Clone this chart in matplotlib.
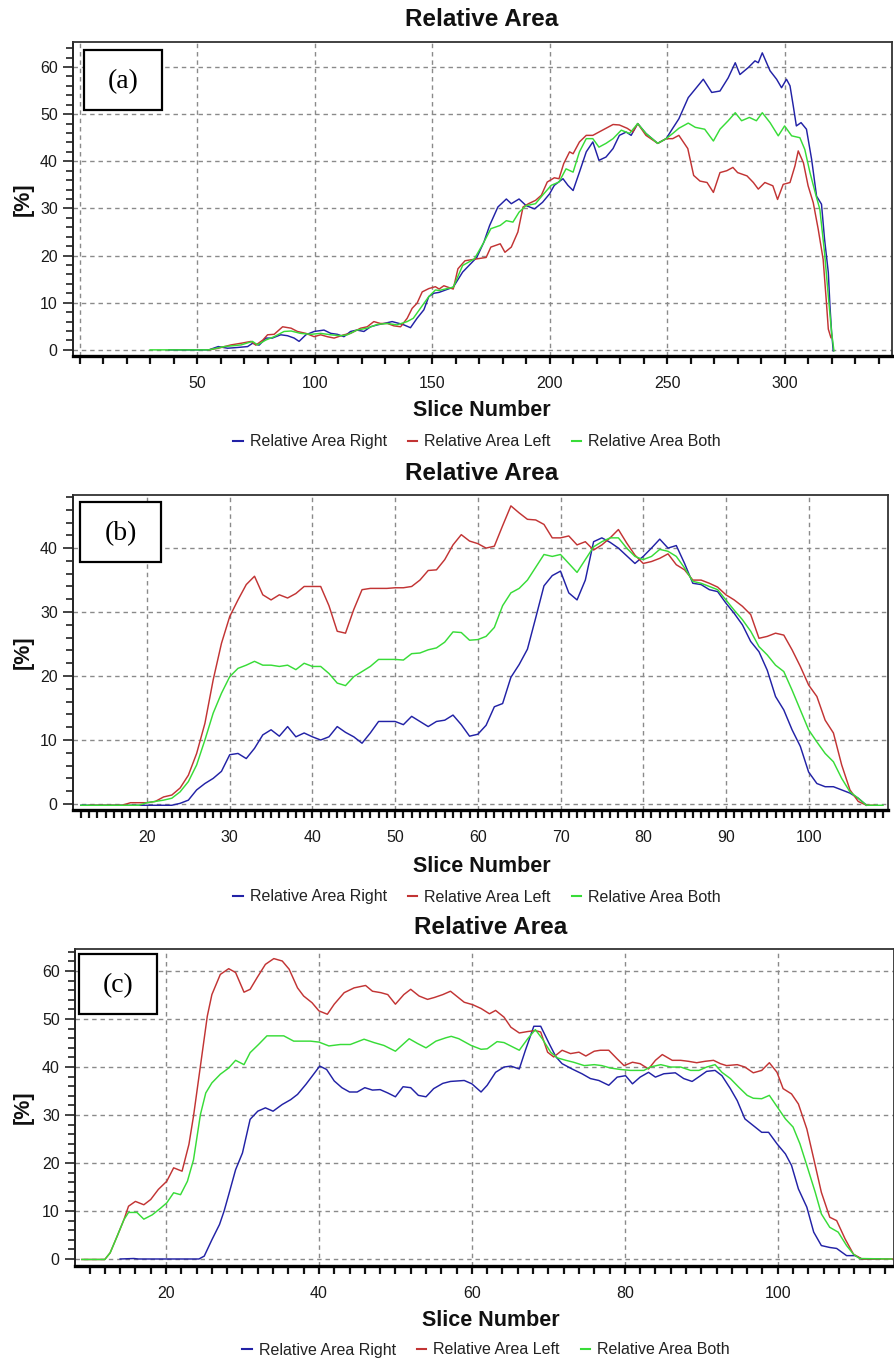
import matplotlib
matplotlib.use("Agg")
import matplotlib.pyplot as plt
from matplotlib.ticker import MultipleLocator
from matplotlib.patches import Rectangle
from matplotlib.lines import Line2D

# ---------------- data ----------------
labels = ["Relative Area Right", "Relative Area Left", "Relative Area Both"]
colors = ["#2222a6", "#c23434", "#38dc38"]
panel_tags = ["(a)", "(b)", "(c)"]
title = "Relative Area"
xlabel = "Slice Number"
ylabel = "[%]"

# Panel (a)
a_right_x = [38, 55, 59, 63, 67, 71.5, 73.6, 76.4, 79.3, 82, 85.6, 88.5, 91.3, 93.4, 96.3, 99.8, 104, 106.9, 109.7,
             112.5, 115.3, 118, 121, 123.8, 126.7, 129.5, 133, 136, 138, 140.8, 143.6, 146.5, 148.6, 150.7, 153, 159,
             163, 169, 172, 174.5, 178, 181.6, 183.7, 187, 190, 193.6, 197, 200, 202, 205.7, 207.8, 210, 212.7, 215.6,
             218.4, 221, 224, 227, 229.7, 232.6, 234.7, 237.5, 241, 246, 249.6, 252.4, 255, 259, 265.4, 269, 272.5,
             276, 279, 281, 284.6, 287.4, 288.8, 290.5, 293.8, 296.6, 298.7, 300.8, 302.3, 303.7, 305, 307, 309.3,
             311.5, 313.6, 315.7, 317, 318.6, 319.3, 320, 320.7]
a_right_y = [0, 0, 0.7, 0.35, 0.5, 0.7, 1.4, 1.0, 2.5, 2.5, 3.2, 3.0, 2.5, 1.8, 3.2, 3.9, 4.2, 3.5, 3.3,
             2.8, 3.9, 4.2, 3.9, 4.9, 5.3, 5.6, 6.0, 5.6, 5.3, 4.7, 6.7, 8.5, 11.3, 12.0, 12.2, 13.3,
             16.5, 19.6, 22.8, 26.4, 30.3, 32.0, 31.0, 32.0, 30.6, 29.9, 31.3, 33.1, 34.9, 36.3, 34.9, 33.8, 37.7, 42.0,
             44.1, 40.2, 40.9, 42.7, 45.5, 46.2, 45.5, 48.0, 45.9, 43.8, 44.8, 47.0, 49.0, 53.5, 57.4, 54.6, 54.9,
             57.7, 60.9, 58.4, 59.9, 61.3, 60.9, 63.0, 59.2, 57.4, 55.6, 57.4, 56.0, 51.7, 47.5, 48.2, 46.8,
             40.4, 32.6, 30.9, 23.5, 16.4, 9.3, 3.7, -0.2]

a_left_x = [55, 59, 64.4, 68.7, 73, 75, 78, 80, 82.8, 86.4, 90, 92.7, 96.3, 99.8, 102.6, 105.4, 108.3, 112.5, 115.3,
            119.6, 122.4, 125.2, 128, 131, 133.7, 136.6, 139.4, 141.5, 143.6, 145.8, 148.6, 151.4, 153, 155, 159, 161,
            164, 169, 173, 175, 179, 181, 183.7, 186.5, 188.7, 191, 194, 196.5, 199, 202, 204, 206, 208.5, 210,
            212.7, 215.6, 218.4, 221, 224, 227, 229.7, 233, 235.4, 237.5, 241, 246, 249.6, 252.4, 255, 258.8, 261.3,
            264, 267, 269.7, 272.5, 275.4, 278, 280, 284, 286.7, 288.8, 291.6, 295, 297, 299.4, 302.3, 304.4, 305.8,
            308, 310, 312.2, 314.3, 316.4, 317.8, 318.6, 319.7]
a_left_y = [0, 0.35, 1.05, 1.4, 1.8, 1.0, 2.1, 3.2, 3.3, 4.9, 4.6, 3.9, 3.5, 2.8, 3.2, 2.8, 2.5, 3.2, 3.5,
            4.6, 4.9, 6.0, 5.6, 5.6, 5.1, 4.9, 6.7, 8.8, 9.9, 12.3, 13.0, 13.4, 12.9, 13.6, 12.9, 17.2,
            18.9, 19.3, 19.6, 21.8, 22.5, 20.7, 21.8, 25.0, 30.3, 31.0, 31.7, 32.8, 35.6, 36.5, 36.3, 39.5, 42.0, 41.6,
            44.1, 45.5, 45.5, 46.2, 47.0, 47.8, 47.7, 47.0, 46.2, 48.0, 45.5, 43.8, 44.8, 44.8, 45.5, 42.7, 37.0,
            35.8, 35.5, 33.4, 37.6, 38.0, 38.7, 37.6, 36.9, 35.5, 34.1, 35.5, 34.8, 31.9, 35.1, 35.5, 39.0, 42.2,
            39.7, 34.8, 31.2, 25.6, 19.2, 10.0, 4.4, 2.6]

a_both_x = [30, 55, 61.6, 68.7, 73.6, 75.7, 79.3, 82.8, 87, 90, 94, 98.4, 102.6, 106.9, 111, 114, 118, 122.4, 126.7,
            131, 135, 139.4, 142, 145, 148.6, 151.4, 153, 159, 163, 168, 172, 175, 179, 181.6, 184.4, 187, 190, 194,
            197, 200.7, 204, 207, 210, 212.7, 215.6, 218.4, 221, 224, 227, 230.5, 234, 237.5, 241, 246, 249.6, 252.4,
            255, 259, 262, 266, 269.7, 272.5, 276, 279, 281.7, 285, 288, 290.5, 293.8, 297.3, 300, 303, 306.5, 308.6,
            310.8, 313, 315, 317, 318.6, 320, 321]
a_both_y = [0, 0, 0.7, 1.05, 1.8, 1.05, 2.1, 2.8, 3.9, 4.0, 3.5, 3.3, 3.5, 3.2, 3.0, 3.2, 4.2, 4.6, 5.4,
            5.6, 5.3, 6.0, 6.7, 8.8, 11.3, 12.7, 12.6, 13.3, 17.9, 19.3, 22.8, 25.7, 26.4, 27.4, 27.1, 29.2, 30.6, 31.0,
            32.8, 34.9, 35.6, 38.4, 37.7, 42.0, 44.8, 44.8, 43.0, 43.8, 44.8, 46.6, 45.9, 48.0, 45.9, 43.8, 44.8, 45.9,
            47.0, 48.1, 47.2, 46.8, 44.3, 46.8, 48.6, 50.3, 48.6, 49.3, 48.6, 50.3, 48.2, 45.4, 47.5, 45.4, 45.0, 42.5,
            37.6, 33.4, 29.8, 20.6, 11.4, 3.7, -0.2]

# Panel (b)
b_right_x = [12, 23, 24, 25, 26, 27, 28, 29, 30, 31, 32, 33, 34, 35, 36, 37, 38, 39, 40, 41, 42, 43, 44, 45, 46, 47,
             48, 49, 50, 51, 52, 53, 54, 55, 56, 57, 58, 59, 60, 61, 62, 63, 64, 65, 66, 67, 68, 69, 70, 71, 72, 73,
             74, 75, 76, 77, 78, 79, 80, 81, 82, 83, 84, 85, 86, 87, 88, 89, 90, 91, 92, 93, 94, 95, 96, 97, 98, 99,
             100, 101, 102, 103, 104, 105, 106, 107]
b_right_y = [-0.2, -0.2, 0.1, 0.6, 2.2, 3.2, 4.0, 5.1, 7.7, 7.9, 7.1, 8.7, 10.8, 11.6, 10.6, 12.1, 10.5, 11.1, 10.5,
             10.0, 10.5, 12.1, 11.2, 10.5, 9.5, 11.1, 12.9, 12.9, 12.9, 12.4, 13.7, 12.9, 12.1, 12.9, 13.1, 13.9, 12.4,
             10.6, 10.9, 12.3, 15.2, 15.7, 19.8, 21.8, 24.2, 29.1, 34.1, 35.7, 36.4, 33.0, 31.9, 35.0, 41.0, 41.6,
             40.9, 40.0, 38.8, 37.6, 38.7, 40.0, 41.4, 40.0, 40.4, 37.6, 34.5, 34.3, 33.5, 33.2, 31.4, 29.8, 28.0,
             25.4, 23.8, 20.9, 16.8, 14.7, 11.6, 9.0, 5.0, 3.2, 2.7, 2.7, 2.2, 1.7, 0.9, -0.2]

b_left_x = [13, 17, 18, 20, 21, 22, 23, 24, 25, 26, 27, 28, 29, 30, 31, 32, 33, 34, 35, 36, 37, 38, 39, 40, 41, 42,
            43, 44, 45, 46, 47, 48, 49, 50, 51, 52, 53, 54, 55, 56, 57, 58, 59, 60, 61, 62, 63, 64, 65, 66, 67, 68,
            69, 70, 71, 72, 73, 74, 75, 76, 77, 78, 79, 80, 81, 82, 83, 84, 85, 86, 87, 88, 89, 90, 91, 92, 93, 94,
            95, 96, 97, 98, 99, 100, 101, 102, 103, 104, 105, 106, 107, 108]
b_left_y = [-0.2, -0.2, 0.2, 0.2, 0.4, 1.1, 1.4, 2.5, 4.5, 7.9, 12.6, 19.4, 25.1, 29.3, 31.9, 34.3, 35.6, 32.7, 31.9,
            32.7, 32.2, 32.9, 34.0, 34.0, 34.0, 31.0, 27.0, 26.7, 30.4, 33.5, 33.7, 33.7, 33.7, 33.8, 33.8, 34.0,
            35.0, 36.5, 36.6, 38.2, 40.5, 42.1, 41.1, 40.7, 40.0, 40.3, 43.5, 46.6, 45.5, 44.5, 44.4, 43.7, 41.6,
            41.6, 41.9, 40.5, 41.0, 39.7, 40.5, 41.6, 42.9, 40.8, 38.9, 37.6, 37.9, 38.4, 39.1, 37.4, 36.6, 35.0,
            35.0, 34.5, 33.9, 32.7, 31.9, 30.9, 29.6, 25.9, 26.2, 26.7, 26.4, 24.1, 21.5, 18.6, 16.8, 13.1, 11.1,
            6.1, 2.2, 0.4, -0.2, -0.2]

b_both_x = [12, 19, 20, 21, 22, 23, 24, 25, 26, 27, 28, 29, 30, 31, 32, 33, 34, 35, 36, 37, 38, 39, 40, 41, 42, 43,
            44, 45, 46, 47, 48, 49, 50, 51, 52, 53, 54, 55, 56, 57, 58, 59, 60, 61, 62, 63, 64, 65, 66, 67, 68, 69,
            70, 71, 72, 73, 74, 75, 76, 77, 78, 79, 80, 81, 82, 83, 84, 85, 86, 87, 88, 89, 90, 91, 92, 93, 94, 95,
            96, 97, 98, 99, 100, 101, 102, 103, 104, 105, 106, 107, 109]
b_both_y = [-0.2, -0.2, 0.2, 0.4, 0.6, 0.9, 1.9, 3.5, 6.1, 10.0, 14.2, 17.3, 19.9, 21.2, 21.7, 22.3, 21.7, 21.7,
            21.5, 21.7, 21.0, 22.0, 21.5, 21.5, 20.4, 18.9, 18.5, 19.9, 20.7, 21.5, 22.6, 22.6, 22.6, 22.5, 23.5,
            23.6, 24.1, 24.4, 25.3, 26.9, 26.8, 25.6, 25.7, 26.2, 27.6, 31.0, 33.0, 33.7, 35.0, 37.0, 39.0, 38.7,
            39.0, 37.6, 36.2, 38.2, 40.2, 41.0, 41.6, 41.6, 40.0, 38.7, 38.2, 38.7, 39.8, 39.5, 38.7, 36.9, 34.8,
            34.5, 34.0, 33.5, 31.9, 30.3, 28.8, 27.0, 24.6, 23.3, 21.7, 20.7, 17.8, 14.7, 11.6, 9.7, 7.9, 6.6, 4.0,
            1.9, 0.9, -0.2, -0.2]

# Panel (c)
c_right_x = [14, 15.8, 16.4, 24.3, 25, 26, 27, 27.6, 28.2, 29.1, 30, 30.6, 31, 32, 33, 34, 35.2, 36.3, 37.2, 38.3,
             39.3, 40.1, 41, 42, 43, 44, 45, 46, 47, 48, 49, 50, 51, 52, 53, 54, 55, 56.2, 57.2, 59, 60, 61.2, 62,
             63.1, 64.2, 65.1, 66.2, 67, 68.1, 69, 70.1, 71, 71.8, 73.1, 74.4, 75.5, 76.6, 77.9, 79, 80.1, 81, 82,
             83.1, 84, 85.1, 86.6, 87.7, 88.8, 89.9, 90.7, 91.8, 92.7, 93.8, 94.7, 95.7, 96.8, 97.9, 98.8, 99.9,
             101, 101.8, 102.7, 103.8, 104.7, 105.7, 106.8, 107.7, 109, 110.1, 111, 113.4]
c_right_y = [0, 0.1, 0, 0, 0.6, 4.0, 7.2, 10.0, 13.4, 18.6, 22.1, 26.3, 29.1, 30.8, 31.5, 30.8, 32.2, 33.2, 34.3, 36.4,
             38.5, 40.2, 39.5, 37.1, 35.7, 34.8, 34.8, 35.7, 35.2, 35.3, 34.6, 33.8, 35.9, 35.7, 34.1, 33.8, 35.5,
             36.6, 37.0, 37.2, 36.5, 34.8, 36.2, 38.9, 40.0, 40.2, 39.6, 43.5, 48.5, 48.5, 44.9, 42.1, 40.7, 39.6,
             38.6, 37.6, 37.2, 36.2, 37.9, 38.2, 36.5, 37.9, 38.9, 37.9, 38.6, 38.8, 37.6, 37.0, 38.2, 39.1, 39.3,
             38.2, 35.5, 33.0, 29.2, 27.8, 26.4, 26.4, 24.0, 21.9, 19.5, 14.6, 10.8, 5.6, 2.8, 2.4, 2.2, 0.7, 0.7,
             0, 0]

c_left_x = [9, 12, 12.7, 13.6, 14.5, 15.1, 16, 17.1, 18, 19, 20.1, 21, 22.1, 23, 23.6, 24.5, 25.4, 26, 27.1, 28.2,
            29.1, 30.2, 31, 31.9, 33, 34.1, 35.2, 36.1, 37.2, 38, 39.1, 40, 41.1, 42, 43.3, 44.6, 46.1, 47, 48.1, 49,
            50, 51.1, 52, 53.1, 54.2, 55.1, 56.2, 57.2, 59, 60.1, 61.2, 62.3, 63.1, 64.2, 65.1, 66.2, 67.3, 68.3, 69,
            69.9, 70.7, 71.8, 72.9, 74, 74.9, 76, 76.8, 77.9, 79, 79.9, 81, 82, 83.1, 84, 84.9, 86.2, 87.3, 88.3,
            89.4, 90.5, 91.6, 92.5, 93.3, 94.7, 95.7, 96.8, 97.9, 98.9, 99.9, 100.7, 101.8, 102.7, 103.8, 104.7,
            105.7, 106.8, 107.7, 108.8, 109.9, 111, 115]
c_left_y = [-0.1, -0.1, 1.3, 4.7, 8.2, 11.0, 12.0, 11.3, 12.4, 14.5, 16.2, 19.0, 18.3, 23.9, 29.8, 40.2, 50.6, 55.1,
            59.3, 60.5, 59.7, 55.6, 56.2, 58.6, 61.4, 62.6, 62.1, 60.4, 56.5, 54.8, 53.4, 51.7, 51.0, 53.1, 55.5,
            56.5, 57.0, 55.8, 55.5, 55.1, 53.1, 55.1, 56.2, 54.8, 54.1, 54.5, 55.1, 55.8, 53.5, 53.0, 52.2, 51.1,
            51.8, 50.4, 48.3, 47.1, 47.4, 47.6, 47.3, 43.1, 42.1, 43.5, 42.8, 43.1, 42.3, 43.3, 43.5, 43.5, 41.7,
            40.3, 41.0, 40.7, 39.6, 41.4, 42.6, 41.4, 41.4, 41.2, 40.9, 41.2, 41.4, 40.7, 40.3, 40.5, 40.0, 38.8,
            39.3, 40.9, 38.9, 35.5, 34.4, 32.3, 27.1, 20.9, 13.9, 8.7, 8.0, 4.2, 1.0, 0, 0]

c_both_x = [9, 12, 12.7, 13.6, 14.5, 15.1, 16.2, 17.1, 18.2, 19.3, 20.1, 21, 21.9, 22.8, 23.6, 24.5, 25.2, 26, 27.1,
            28.2, 29.1, 30.2, 31, 32.1, 33.2, 35.4, 36.7, 38.9, 40, 41.3, 42.8, 44.1, 45.9, 47.2, 48.5, 50, 51.8, 52.9,
            54, 55.3, 56.6, 57.3, 58.3, 59.9, 61.2, 62, 63.3, 64.2, 66.2, 67.3, 68.3, 69.2, 70.3, 71.2, 72.3, 73.3,
            74.7, 76, 77, 78.1, 79.4, 80.7, 82.5, 83.3, 84.7, 86, 87.3, 88.6, 89.7, 90.7, 91.8, 92.7, 93.8, 94.9, 96,
            96.8, 97.9, 98.9, 100.1, 101, 102, 102.9, 103.8, 104.9, 105.7, 106.8, 107.9, 109, 109.9, 110.7, 114.9]
c_both_y = [-0.1, -0.1, 1.3, 4.7, 8.2, 9.7, 9.7, 8.3, 9.2, 10.6, 11.7, 13.8, 13.4, 16.2, 20.7, 30.1, 34.6, 36.7, 38.5,
            39.8, 41.4, 40.5, 43.0, 44.7, 46.5, 46.5, 45.4, 45.4, 45.2, 44.4, 44.7, 44.7, 45.8, 45.1, 44.5, 43.3, 45.9,
            44.9, 44.0, 45.4, 46.1, 46.4, 45.9, 44.5, 43.7, 43.8, 45.3, 45.1, 43.5, 45.9, 47.8, 45.9, 43.1, 41.9, 41.4,
            41.0, 40.3, 40.5, 40.3, 39.8, 39.5, 39.3, 39.3, 40.0, 40.5, 40.0, 40.0, 39.3, 39.3, 40.0, 40.5, 38.9, 37.6,
            35.8, 34.1, 33.5, 33.4, 34.1, 31.3, 29.2, 27.5, 24.0, 19.5, 13.9, 9.4, 6.6, 5.6, 2.8, 1.0, 0.1, 0]

# ---------------- layout (pixels) ----------------
W, H = 895, 1360
FONT = ["Liberation Sans", "DejaVu Sans"]
SERIF = ["Liberation Serif", "DejaVu Serif"]

panels = [
    dict(series=[(a_right_x, a_right_y), (a_left_x, a_left_y), (a_both_x, a_both_y)],
         box=(73, 42, 892, 356), xlim=(-2.8, 345.7), ylim=(-1.3, 65.3),
         xmaj=50, xmin=10, ymaj=10, ymin=2, xticks_from=50,
         title_xy=(482, 19), xlabel_xy=(482, 411), legend_xy=(477, 442),
         tag_box=(84, 50, 162, 110)),
    dict(series=[(b_right_x, b_right_y), (b_left_x, b_left_y), (b_both_x, b_both_y)],
         box=(73, 495, 888, 810), xlim=(11.05, 109.6), ylim=(-0.94, 48.3),
         xmaj=10, xmin=1, ymaj=10, ymin=2, xticks_from=20,
         title_xy=(482, 473), xlabel_xy=(482, 866), legend_xy=(477, 897),
         tag_box=(80, 502, 161, 562)),
    dict(series=[(c_right_x, c_right_y), (c_left_x, c_left_y), (c_both_x, c_both_y)],
         box=(75, 949, 894, 1266), xlim=(8.1, 115.2), ylim=(-1.46, 64.6),
         xmaj=20, xmin=2, ymaj=10, ymin=2, xticks_from=20,
         title_xy=(491, 927), xlabel_xy=(491, 1320), legend_xy=(486, 1350),
         tag_box=(79, 954, 157, 1014)),
]

fig = plt.figure(figsize=(W / 100, H / 100), dpi=100)
fig.patch.set_facecolor("white")


def fx(x):
    return x / W


def fy(y):
    return 1 - y / H


for i, p in enumerate(panels):
    l, t, r, b = p["box"]
    ax = fig.add_axes([fx(l), fy(b), (r - l) / W, (b - t) / H])
    for (xs, ys), c, lab in zip(p["series"], colors, labels):
        ax.plot(xs, ys, color=c, lw=1.05, label=lab)
    ax.set_xlim(*p["xlim"])
    ax.set_ylim(*p["ylim"])
    ax.xaxis.set_major_locator(MultipleLocator(p["xmaj"]))
    ax.xaxis.set_minor_locator(MultipleLocator(p["xmin"]))
    ax.yaxis.set_major_locator(MultipleLocator(p["ymaj"]))
    ax.yaxis.set_minor_locator(MultipleLocator(p["ymin"]))
    ax.grid(True, which="major", color="#8a8a8a", linestyle=(0, (3.2, 2.8)), linewidth=1.0)
    ax.set_axisbelow(True)
    lo = p["xticks_from"]
    ax.xaxis.set_major_formatter(plt.FuncFormatter(lambda v, pos, lo=lo: "%d" % v if v >= lo - 1e-6 else ""))
    ax.yaxis.set_major_formatter(plt.FuncFormatter(lambda v, pos: "%d" % v))
    ax.tick_params(axis="x", which="both", direction="out", length=5.5, width=1.6, color="#111111",
                   pad=9, labelsize=11.5, labelcolor="#1a1a1a", top=False)
    ax.tick_params(axis="y", which="major", direction="out", length=7.5, width=1.2, color="#222222",
                   pad=3.5, labelsize=11.5, labelcolor="#1a1a1a", right=False)
    ax.tick_params(axis="y", which="minor", direction="out", length=5, width=1.2, color="#222222", right=False)
    for lab in ax.get_xticklabels() + ax.get_yticklabels():
        lab.set_family(FONT)
    ax.spines["bottom"].set_linewidth(2.4)
    ax.spines["bottom"].set_color("black")
    ax.spines["left"].set_linewidth(1.4)
    ax.spines["left"].set_color("#222222")
    for s in ("top", "right"):
        ax.spines[s].set_linewidth(1.3)
        ax.spines[s].set_color("#333333")

    tx, ty = p["title_xy"]
    fig.text(fx(tx), fy(ty), title, ha="center", va="center", fontsize=17.5, fontweight="bold",
             family=FONT, color="#111111")
    lx, ly = p["xlabel_xy"]
    fig.text(fx(lx), fy(ly), xlabel, ha="center", va="center", fontsize=15.5, fontweight="bold",
             family=FONT, color="#111111")
    fig.text(fx(23), fy((t + b) / 2), ylabel, ha="center", va="center", rotation=90, fontsize=15.5,
             fontweight="bold", family=FONT, color="#111111")

    bl, bt, br, bb = p["tag_box"]
    fig.patches.append(Rectangle((fx(bl), fy(bb)), (br - bl) / W, (bb - bt) / H, transform=fig.transFigure,
                                 facecolor="white", edgecolor="black", linewidth=1.6, zorder=5))
    fig.text(fx((bl + br) / 2), fy((bt + bb) / 2 + 2), panel_tags[i], ha="center", va="center",
             fontsize=20, family=SERIF, color="black", zorder=6)

    handles = [Line2D([0], [0], color=c, lw=1.5) for c in colors]
    gx, gy = p["legend_xy"]
    fig.legend(handles, labels, loc="center", bbox_to_anchor=(fx(gx), fy(gy)), ncol=3, frameon=False,
               prop={"family": FONT, "size": 11.5}, handlelength=0.6, handletextpad=0.45,
               columnspacing=1.3, labelcolor="#222222")

fig.savefig("out.png", dpi=100, facecolor="white")
